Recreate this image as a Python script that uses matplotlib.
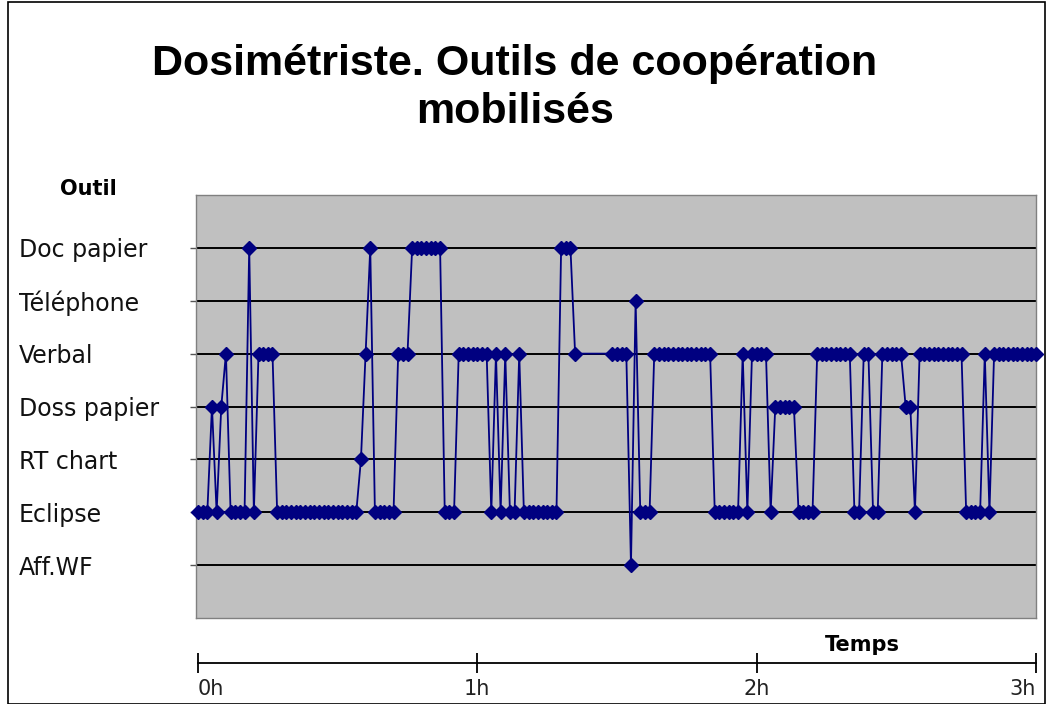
import matplotlib
matplotlib.use("Agg")
import matplotlib.pyplot as plt
from matplotlib.patches import Rectangle

# ---------------- data ----------------
categories = ["Aff.WF", "Eclipse", "RT chart", "Doss papier",
              "Verbal", "Téléphone", "Doc papier"]
category_levels = [1, 2, 3, 4, 5, 6, 7]

# time of each observation (minutes since start)
minutes = [
    0, 1, 2, 3, 4, 5, 6, 7, 8, 9,
    10, 11, 12, 13, 14, 15, 16, 17, 18, 19,
    20, 21, 22, 23, 24, 25, 26, 27, 28, 29,
    30, 31, 32, 33, 34, 35, 36, 37, 38, 39,
    40, 41, 42, 43, 44, 45, 46, 47, 48, 49,
    50, 51, 52, 53, 54, 55, 56, 57, 58, 59,
    60, 61, 62, 63, 64, 65, 66, 67, 68, 69,
    70, 71, 72, 73, 74, 75, 76, 77, 78, 79,
    80, 81,
    89, 90, 91, 92, 93, 94, 95, 96, 97, 98,
    99, 100, 101, 102, 103, 104, 105, 106, 107, 108,
    109, 110, 111, 112, 113, 114, 115, 116, 117, 118,
    119, 120, 121, 122, 123, 124, 125, 126, 127, 128,
    129, 130, 131, 132, 133, 134, 135, 136, 137, 138,
    139, 140, 141, 142, 143, 144, 145, 146, 147, 148,
    149, 150, 151, 152, 153, 154, 155, 156, 157, 158,
    159, 160, 161, 162, 163, 164, 165, 166, 167, 168,
    169, 170, 171, 172, 173, 174, 175, 176, 177, 178,
    179, 180,
]

# tool in use (index into category_levels: 1=Aff.WF ... 7=Doc papier)
levels = [
    2, 2, 2, 4, 2, 4, 5, 2, 2, 2,
    2, 7, 2, 5, 5, 5, 5, 2, 2, 2,
    2, 2, 2, 2, 2, 2, 2, 2, 2, 2,
    2, 2, 2, 2, 2, 3, 5, 7, 2, 2,
    2, 2, 2, 5, 5, 5, 7, 7, 7, 7,
    7, 7, 7, 2, 2, 2, 5, 5, 5, 5,
    5, 5, 5, 2, 5, 2, 5, 2, 2, 5,
    2, 2, 2, 2, 2, 2, 2, 2, 7, 7,
    7, 5,
    5, 5, 5, 5, 1, 6, 2, 2, 2, 5,
    5, 5, 5, 5, 5, 5, 5, 5, 5, 5,
    5, 5, 2, 2, 2, 2, 2, 2, 5, 2,
    5, 5, 5, 5, 2, 4, 4, 4, 4, 4,
    2, 2, 2, 2, 5, 5, 5, 5, 5, 5,
    5, 5, 2, 2, 5, 5, 2, 2, 5, 5,
    5, 5, 5, 4, 4, 2, 5, 5, 5, 5,
    5, 5, 5, 5, 5, 5, 2, 2, 2, 2,
    5, 2, 5, 5, 5, 5, 5, 5, 5, 5,
    5, 5,
]

time_ticks = [0, 60, 120, 180]
time_labels = ["0h", "1h", "2h", "3h"]

title = "Dosimétriste. Outils de coopération\nmobilisés"

# ---------------- figure ----------------
W, H = 1047, 704
fig = plt.figure(figsize=(W / 100, H / 100), dpi=100)
fig.patch.set_facecolor("white")

def fx(px):
    return px / W

def fy(py):
    return 1 - py / H

# plot area (gray)
left_px, right_px, top_px, bottom_px = 196, 1036, 195, 618
ax = fig.add_axes([fx(left_px), fy(bottom_px),
                   (right_px - left_px) / W, (bottom_px - top_px) / H])
ax.set_facecolor("#c0c0c0")
px_per_min = (right_px - 198) / 180.0
ax.set_xlim(-(198 - left_px) / px_per_min, 180)
ax.set_ylim(0, 8)
for s in ax.spines.values():
    s.set_color("#808080")
    s.set_linewidth(1.0)

ax.set_yticks(category_levels)
ax.set_yticklabels(categories, fontsize=17, family="DejaVu Sans", color="#111111")
for lab in ax.get_yticklabels():
    lab.set_horizontalalignment("left")
tick_len = 4
ax.tick_params(axis="y", length=tick_len, width=1, color="#555555",
               pad=(left_px - 19) * 0.72 - tick_len)
ax.tick_params(axis="x", bottom=False, labelbottom=False)
ax.yaxis.grid(True, color="black", linewidth=1.4)
ax.set_axisbelow(True)

ax.plot(minutes, levels, color="#000080", linewidth=1.3,
        marker="D", markersize=7, markerfacecolor="#000080",
        markeredgecolor="#000080", clip_on=False, zorder=3)

# separate time axis below the plot area
ax2 = fig.add_axes([fx(198), fy(663), (right_px - 198) / W, 0.01])
ax2.patch.set_visible(False)
ax2.set_xlim(0, 180)
ax2.set_ylim(0, 1)
for side in ("top", "left", "right"):
    ax2.spines[side].set_visible(False)
ax2.spines["bottom"].set_color("black")
ax2.spines["bottom"].set_linewidth(1.3)
ax2.set_yticks([])
ax2.set_xticks(time_ticks)
ax2.set_xticklabels(time_labels, fontsize=15, family="DejaVu Sans", color="#222222")
ax2.tick_params(axis="x", direction="inout", length=15, width=1.3, pad=4)
xl = ax2.get_xticklabels()
xl[0].set_horizontalalignment("left")
xl[-1].set_horizontalalignment("right")

# texts
fig.text(fx(515), fy(44), title, ha="center", va="top",
         fontsize=31, fontweight="bold", family="Liberation Sans",
         linespacing=1.27, color="black")
fig.text(fx(88), fy(189), "Outil", ha="center", va="center",
         fontsize=15, fontweight="bold", family="DejaVu Sans")
fig.text(fx(862), fy(645), "Temps", ha="center", va="center",
         fontsize=15, fontweight="bold", family="DejaVu Sans")

# outer chart border
fig.patches.append(Rectangle((fx(8), 0), fx(1045) - fx(8), 1 - 2 / H,
                             transform=fig.transFigure, fill=False,
                             edgecolor="black", linewidth=1.2))

fig.savefig("out.png", dpi=100)
